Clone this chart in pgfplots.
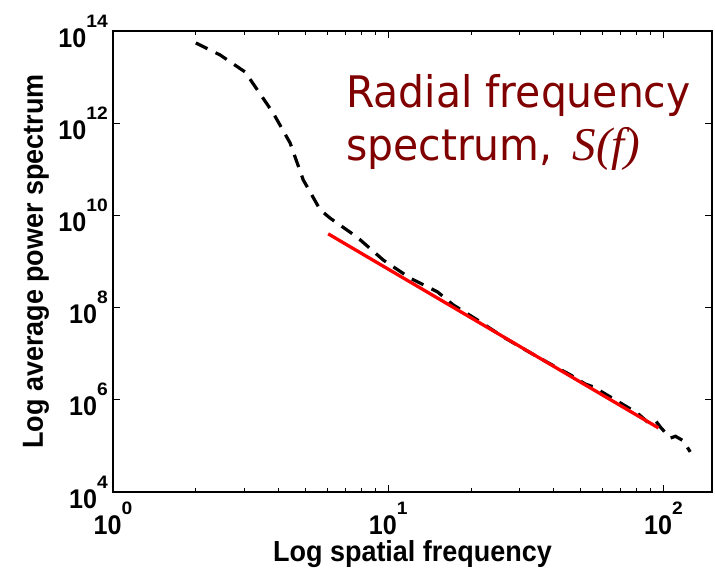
\documentclass[border=0pt]{standalone}
\usepackage{graphicx}
\usepackage{pgfplots}
\pgfplotsset{compat=1.18}
\usepackage{fontspec}
\setmainfont{Liberation Sans}[FakeStretch=0.93]
\newfontfamily\annfont{DejaVu Sans}[FakeStretch=0.94]
\newfontfamily\serifit{Liberation Serif}
\definecolor{annred}{RGB}{128,0,0}
\newcommand\tp[1]{10\raisebox{20pt}{\fontsize{18}{18}\selectfont\scalebox{1.15}[1]{#1}}}
\begin{document}
\begin{tikzpicture}
\path[use as bounding box] (-113pt,-78pt) rectangle (602pt,492pt);
\begin{axis}[
  xmode=log, ymode=log,
  scale only axis, width=599pt, height=461pt,
  at={(0pt,0pt)}, anchor=south west,
  xmin=1, xmax=150, ymin=1e4, ymax=1e14,
  axis line style={line width=1.3pt},
  tick align=inside,
  major tick length=7pt, minor tick length=4pt,
  tick style={line width=1pt, black},
  minor y tick style={draw=none},
  xtick={1,10,100},
  xticklabels={\tp{0},\tp{1},\tp{2}},
  minor xtick={2,3,4,5,6,7,8,9,20,30,40,50,60,70,80,90},
  ytick={1e4,1e6,1e8,1e10,1e12,1e14},
  yticklabels={\tp{4},\tp{6},\tp{8},\tp{10},\tp{12},\tp{14}},
  tick label style={font=\fontsize{27}{27}\selectfont\bfseries},
  xticklabel style={anchor=north, inner sep=0pt, yshift=-10pt},
  yticklabel style={anchor=east, inner sep=0pt, xshift=-5pt},
  xlabel={Log spatial frequency},
  ylabel={Log average power spectrum},
  label style={font=\fontsize{29}{29}\selectfont\bfseries},
  xlabel style={at={(axis description cs:0.5,-0.1497)}, anchor=base, inner sep=0pt},
  ylabel style={at={(axis description cs:-0.117,0.5)}, anchor=base, inner sep=0pt},
  clip=false,
]
\addplot[black, line width=3.2pt, dash pattern=on 13pt off 9pt] coordinates {
(2.00,5.50e13) (2.45,3.02e13) (3.02,1.29e13) (3.82,1.66e12) (4.40,3.72e11)
(4.91,5.89e10) (5.66,1.32e10) (6.15,8.71e9) (7.70,3.39e9) (9.60,1.07e9)
(12.0,4.37e8) (15.1,2.19e8) (17.2,1.15e8) (21.1,5.37e7) (26.2,2.29e7)
(32.8,1.05e7) (41.2,4.90e6) (45.9,3.47e6) (52.0,2.19e6) (55.6,1.91e6)
(62.5,1.26e6) (69.8,8.51e5) (80.4,5.13e5) (88.2,3.16e5) (93.7,3.47e5)
(98.0,2.45e5) (106,1.48e5) (110.5,1.62e5) (118,1.29e5) (125,7.41e4)
};
\addplot[red, line width=3.3pt] coordinates {(6.05,3.98e9) (95.9,2.45e5)};
\node[anchor=base west, inner sep=0pt, font=\annfont\fontsize{43.5}{43.5}\selectfont, text=annred]
  at (rel axis cs:0.389,0.835) {Radial frequency};
\node[anchor=base west, inner sep=0pt, font=\annfont\fontsize{43.5}{43.5}\selectfont, text=annred]
  at (rel axis cs:0.389,0.720) {spectrum,\hspace{20pt}{\serifit\itshape\fontsize{47}{47}\selectfont S(f)}};
\end{axis}
\end{tikzpicture}
\end{document}
